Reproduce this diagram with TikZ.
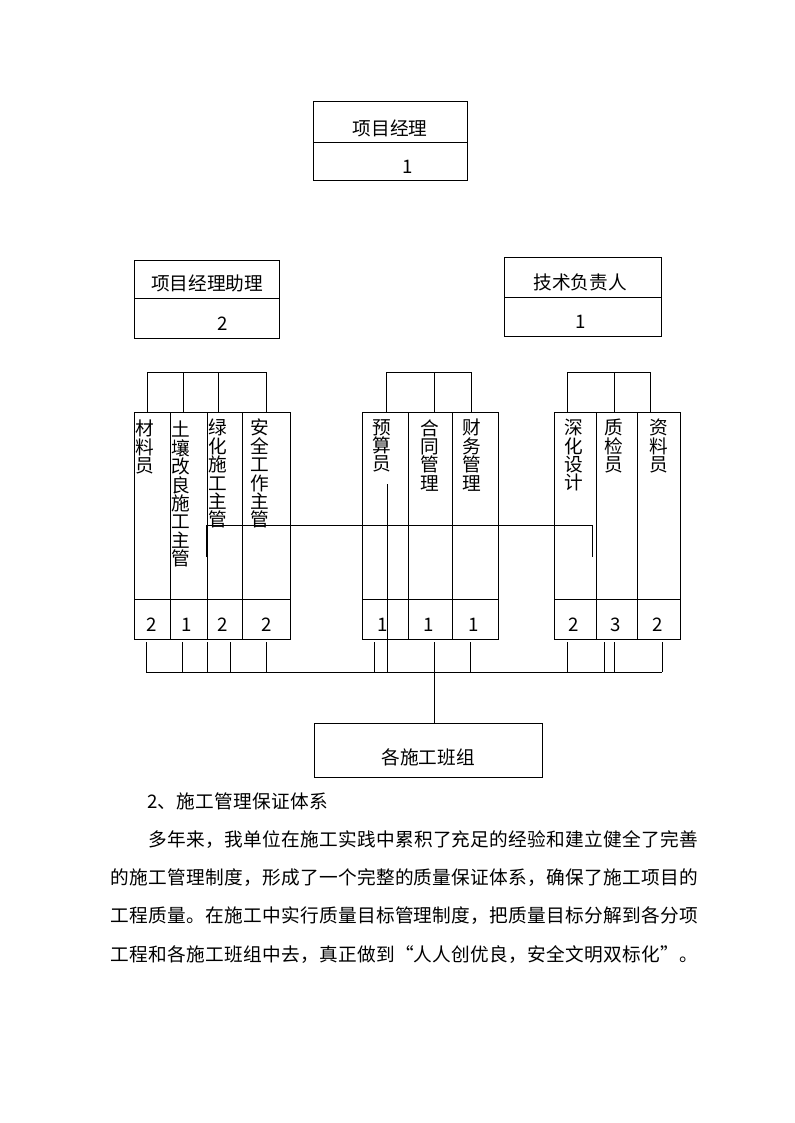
\documentclass[tikz,border=0pt]{standalone}
\usepackage{fontspec}
\setmainfont{Liberation Serif}
\newfontfamily\cjk{Noto Sans CJK SC}
\newfontfamily\cjkp[LetterSpace=1.7]{Noto Sans CJK SC}
\usetikzlibrary{fit}
\begin{document}
\begin{tikzpicture}[x=0.75pt,y=-0.75pt,
  ln/.style={line width=0.75pt},
  cell/.style={draw, line width=0.75pt, inner sep=0pt},
  lbl/.style={inner sep=0pt, font=\cjk\fontsize{14}{16}\selectfont},
  vlbl/.style={inner sep=0pt, anchor=north, align=center, font=\cjk\fontsize{14}{13.8}\selectfont},
  num/.style={inner sep=0pt, font=\cjk\fontsize{14}{16}\selectfont},
  para/.style={inner sep=0pt, anchor=west, font=\cjkp\fontsize{14}{16}\selectfont}]
\fill[white] (0,0) rectangle (794,1123);
\useasboundingbox (0,0) rectangle (794,1123);

% ---- top boxes
\node[cell, fit={(313,102) (467,181)}] (pm) {};
\draw[ln] (313,143) -- (467,143);
\node[lbl] (pmt) at (390,128) {项目经理};
\node[num] (pmn) at (408,167) {1};

\node[cell, fit={(134,260) (279,338)}] (asst) {};
\draw[ln] (134,298) -- (279,298);
\node[lbl] (asstt) at (207,283) {项目经理助理};
\node[num] (asstn) at (223,324) {2};

\node[cell, fit={(504,257) (661,336)}] (tech) {};
\draw[ln] (504,297) -- (661,297);
\node[lbl] (techt) at (580,282) {技术负责人};
\node[num] (techn) at (581,322) {1};

% ---- columns
\foreach \a/\b/\n in {134/170/L1,170/207/L2,207/242/L3,242/290/L4,
                      362/408/M1,408/452/M2,452/498/M3,
                      554/596/R1,596/637/R2,637/680/R3}
  \node[cell, fit={(\a,412) (\b,639)}] (\n) {};
\draw[ln] (134,599) -- (290,599);
\draw[ln] (362,599) -- (498,599);
\draw[ln] (554,599) -- (680,599);

\node[vlbl] (tL1) at (145,420) {材\\料\\员};
\node[vlbl] (tL2) at (181,421) {土\\壤\\改\\良\\施\\工\\主\\管};
\node[vlbl] (tL3) at (218,419) {绿\\化\\施\\工\\主\\管};
\node[vlbl] (tL4) at (260,419) {安\\全\\工\\作\\主\\管};
\node[vlbl] (tM1) at (382,419) {预\\算\\员};
\node[vlbl] (tM2) at (430,419) {合\\同\\管\\理};
\node[vlbl] (tM3) at (472,419) {财\\务\\管\\理};
\node[vlbl] (tR1) at (574,419) {深\\化\\设\\计};
\node[vlbl] (tR2) at (614,419) {质\\检\\员};
\node[vlbl] (tR3) at (659,419) {资\\料\\员};

\foreach \x/\t/\n in {152/2/nL1,187/1/nL2,223/2/nL3,267/2/nL4,
                      383/1/nM1,429/1/nM2,474/1/nM3,
                      574/2/nR1,616/3/nR2,658/2/nR3}
  \node[num] (\n) at (\x,625) {\t};

% ---- top brackets
\coordinate (kL1) at (147,372); \coordinate (kL2) at (183,372);
\coordinate (kL3) at (218,372); \coordinate (kL4) at (266,372);
\coordinate (kM1) at (386,372); \coordinate (kM2) at (434,372);
\coordinate (kM3) at (471,372);
\coordinate (kR1) at (567,372); \coordinate (kR2) at (614,372);
\coordinate (kR3) at (650,372);
\draw[ln] (kL1) -- (kL4);
\draw[ln] (kM1) -- (kM3);
\draw[ln] (kR1) -- (kR3);
\foreach \k/\n in {kL1/L1,kL2/L2,kL3/L3,kL4/L4,kM1/M1,kM2/M2,kM3/M3,kR1/R1,kR2/R2,kR3/R3}
  \draw[ln] (\k) -- (\k |- \n.north);

% ---- cross line
\coordinate (x1) at (207,557); \coordinate (x2) at (207,525);
\coordinate (x3) at (592,525); \coordinate (x4) at (592,557);
\draw[ln] (x2) -- (x3) -- (x4);
\draw[line width=1.4pt] (x1) -- (x2);

% ---- bottom bus
\coordinate (bs) at (146,672); \coordinate (be) at (662,672);
\draw[ln] (bs) -- (be);
\foreach \x/\n in {146/1,182/2,207/3,230/4,266/5,374/6,434/7,470/8,567/9,604/10,614/11,662/12}{
  \coordinate (tt\n) at (\x,642); \coordinate (tb\n) at (\x,672);
  \draw[ln] (tt\n) -- (tb\n);
}
\coordinate (ya) at (387,484); \coordinate (yb) at (387,672);
\draw[ln] (ya) -- (yb);

\node[cell, fit={(314,723) (542,777)}] (team) {};
\node[lbl] (teamt) at (428,757) {各施工班组};
\coordinate (bc) at (434,672);
\draw[ln] (bc) -- (bc |- team.north);

% ---- paragraph
\node[para] (h)  at (147,801) {2、施工管理保证体系};
\node[para] (p1) at (148,840) {多年来，我单位在施工实践中累积了充足的经验和建立健全了完善};
\node[para] (p2) at (110,878) {的施工管理制度，形成了一个完整的质量保证体系，确保了施工项目的};
\node[para] (p3) at (110,916) {工程质量。在施工中实行质量目标管理制度，把质量目标分解到各分项};
\node[para] (p4) at (110,955) {工程和各施工班组中去，真正做到“人人创优良，安全文明双标化”。};
\end{tikzpicture}
\end{document}
